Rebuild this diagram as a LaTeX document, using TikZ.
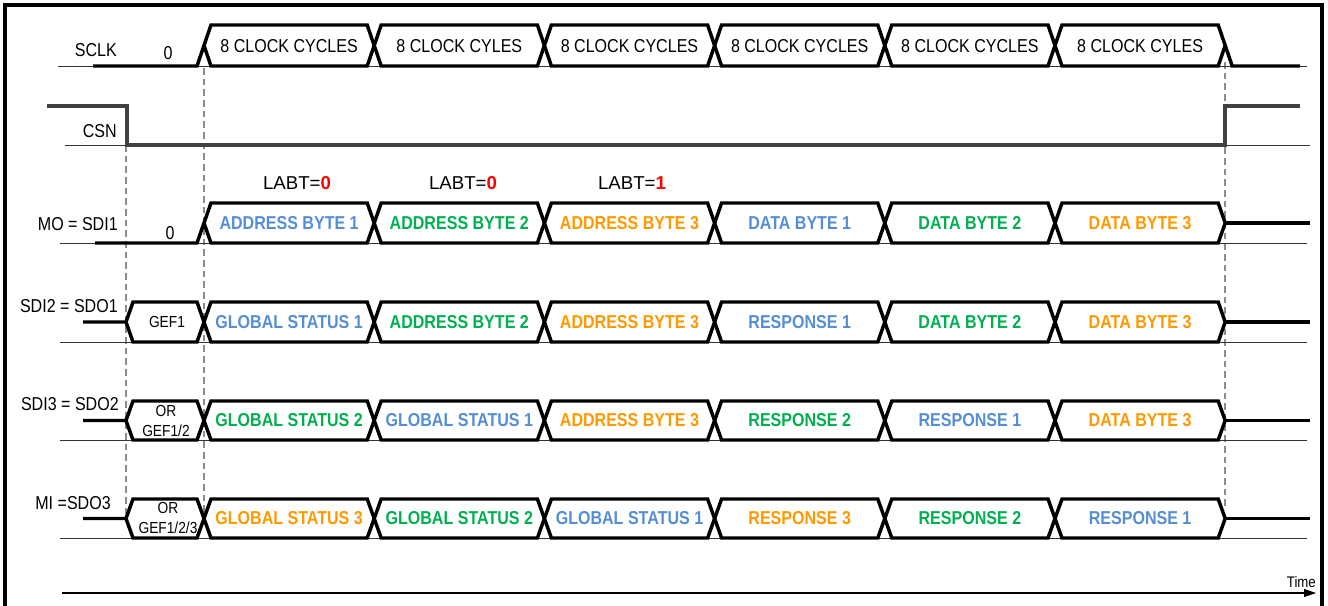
\documentclass[tikz,border=0pt]{standalone}
\usepackage{fontspec}
\setmainfont[FakeStretch=0.86]{Liberation Sans}
\newfontfamily\labtfont{Liberation Sans}
\usepackage{tikz}
\usetikzlibrary{arrows.meta}
\definecolor{byteblue}{RGB}{85,142,213}
\definecolor{bytegreen}{RGB}{0,176,80}
\definecolor{byteorange}{RGB}{255,153,0}
\definecolor{labtred}{RGB}{255,0,0}

\begin{document}
\begin{tikzpicture}[x=0.75pt, y=-0.75pt,
    every node/.style={font=\fontsize{14}{16}\selectfont, inner sep=0pt},
    sig/.style={line width=2.6pt},
    csnline/.style={line width=2.4pt, draw=black!75},
    refline/.style={line width=0.6pt, draw=black!80},
    guide/.style={dash pattern=on 5pt off 3pt, line width=1pt, draw=black!45},
    bytelabel/.style={font=\fontsize{14}{16}\selectfont\bfseries},
    siglabel/.style={anchor=east},
    labtlabel/.style={font=\fontsize{14}{16}\labtfont},
    gef/.style={font=\fontsize{12}{14.4}\selectfont, align=center}]
    \def\h{7}
    \def\pitch{170.2}
    \useasboundingbox (0,0) rectangle (1328,606);

    % frame
    \draw[line width=2.6pt] (5,606) -- (5,5) -- (1322,5) -- (1322,606);

    % guides
    \draw[guide] (126,145) -- (126,515);
    \draw[guide] (204,68) -- (204,515);
    \draw[guide] (1225,62) -- (1225,510);

    % reference lines
    \draw[refline] (58,66) -- (1307,66);
    \draw[refline] (65,145) -- (1310,145);
    \draw[refline] (60,243) -- (1307,243);
    \draw[refline] (60,342) -- (1307,342);
    \draw[refline] (60,440) -- (1307,440);
    \draw[refline] (60,538) -- (1307,538);

    % bus boxes
    \foreach \t/\b in {25/66, 203/243, 302/342, 401/440, 499/538} {
      \pgfmathsetmacro\m{(\t+\b)/2}
      \foreach \i in {0,...,5} {
        \pgfmathsetmacro\xa{204+\pitch*\i}
        \pgfmathsetmacro\xb{\xa+\pitch}
        \draw[sig] (\xa,\m) -- (\xa+\h,\t) -- (\xb-\h,\t) -- (\xb,\m)
          -- (\xb-\h,\b) -- (\xa+\h,\b) -- cycle;
      }
    }

    % SCLK
    \draw[sig] (93,66) -- (204-\h,66) -- (204,45.5);
    \draw[sig] (1225.2,45.5) -- (1225.2+\h,66) -- (1300,66);
    \node[siglabel] (sclk) at (117,50) {SCLK};
    \node (sclkzero) at (168,53) {0};
    \node (clk1) at (289.1,46) {8 CLOCK CYCLES};
    \node (clk2) at (459.3,46) {8 CLOCK CYLES};
    \node (clk3) at (629.5,46) {8 CLOCK CYCLES};
    \node (clk4) at (799.7,46) {8 CLOCK CYCLES};
    \node (clk5) at (969.9,46) {8 CLOCK CYCLES};
    \node (clk6) at (1140.1,46) {8 CLOCK CYLES};

    % CSN
    \draw[csnline] (47,106) -- (127,106) -- (127,145) -- (1225,145) -- (1225,106) -- (1300,106);
    \node[siglabel] (csn) at (117,131) {CSN};

    % MO = SDI1
    \draw[sig] (95,243) -- (204-\h,243) -- (204,223);
    \draw[sig] (1225.2,223) -- (1310,223);
    \node[siglabel] (mo) at (118,224) {MO = SDI1};
    \node (mozero) at (170,233) {0};
    \node[labtlabel] (labt1) at (297,183) {LABT=\textbf{\textcolor{labtred}{0}}};
    \node[labtlabel] (labt2) at (463,183) {LABT=\textbf{\textcolor{labtred}{0}}};
    \node[labtlabel] (labt3) at (632,183) {LABT=\textbf{\textcolor{labtred}{1}}};
    \node[bytelabel, text=byteblue] (mo1) at (289.1,223) {ADDRESS BYTE 1};
    \node[bytelabel, text=bytegreen] (mo2) at (459.3,223) {ADDRESS BYTE 2};
    \node[bytelabel, text=byteorange] (mo3) at (629.5,223) {ADDRESS BYTE 3};
    \node[bytelabel, text=byteblue] (mo4) at (799.7,223) {DATA BYTE 1};
    \node[bytelabel, text=bytegreen] (mo5) at (969.9,223) {DATA BYTE 2};
    \node[bytelabel, text=byteorange] (mo6) at (1140.1,223) {DATA BYTE 3};

    % SDI2 = SDO1
    \draw[sig] (83,322) -- (126,322) -- (126+\h,302) -- (204-\h,302) -- (204,322)
      -- (204-\h,342) -- (126+\h,342) -- (126,322);
    \draw[sig] (1225.2,322) -- (1310,322);
    \node[siglabel] (sdo1) at (118,306) {SDI2 = SDO1};
    \node[gef] (gef1) at (167,322) {GEF1};
    \node[bytelabel, text=byteblue] (sdoa1) at (289.1,322) {GLOBAL STATUS 1};
    \node[bytelabel, text=bytegreen] (sdoa2) at (459.3,322) {ADDRESS BYTE 2};
    \node[bytelabel, text=byteorange] (sdoa3) at (629.5,322) {ADDRESS BYTE 3};
    \node[bytelabel, text=byteblue] (sdoa4) at (799.7,322) {RESPONSE 1};
    \node[bytelabel, text=bytegreen] (sdoa5) at (969.9,322) {DATA BYTE 2};
    \node[bytelabel, text=byteorange] (sdoa6) at (1140.1,322) {DATA BYTE 3};

    % SDI3 = SDO2
    \draw[sig] (83,420.5) -- (126,420.5) -- (126+\h,401) -- (204-\h,401) -- (204,420.5)
      -- (204-\h,440) -- (126+\h,440) -- (126,420.5);
    \draw[sig] (1225.2,420.5) -- (1310,420.5);
    \node[siglabel] (sdo2) at (119,404) {SDI3 = SDO2};
    \node[gef] (gef2) at (166,421) {OR\\GEF1/2};
    \node[bytelabel, text=bytegreen] (sdob1) at (289.1,420.5) {GLOBAL STATUS 2};
    \node[bytelabel, text=byteblue] (sdob2) at (459.3,420.5) {GLOBAL STATUS 1};
    \node[bytelabel, text=byteorange] (sdob3) at (629.5,420.5) {ADDRESS BYTE 3};
    \node[bytelabel, text=bytegreen] (sdob4) at (799.7,420.5) {RESPONSE 2};
    \node[bytelabel, text=byteblue] (sdob5) at (969.9,420.5) {RESPONSE 1};
    \node[bytelabel, text=byteorange] (sdob6) at (1140.1,420.5) {DATA BYTE 3};

    % MI = SDO3
    \draw[sig] (83,518.5) -- (126,518.5) -- (126+\h,499) -- (204-\h,499) -- (204,518.5)
      -- (204-\h,538) -- (126+\h,538) -- (126,518.5);
    \draw[sig] (1225.2,518.5) -- (1310,518.5);
    \node[siglabel] (sdo3) at (111,503) {MI =SDO3};
    \node[gef] (gef3) at (168,518) {OR\\GEF1/2/3};
    \node[bytelabel, text=byteorange] (mi1) at (289.1,518.5) {GLOBAL STATUS 3};
    \node[bytelabel, text=bytegreen] (mi2) at (459.3,518.5) {GLOBAL STATUS 2};
    \node[bytelabel, text=byteblue] (mi3) at (629.5,518.5) {GLOBAL STATUS 1};
    \node[bytelabel, text=byteorange] (mi4) at (799.7,518.5) {RESPONSE 3};
    \node[bytelabel, text=bytegreen] (mi5) at (969.9,518.5) {RESPONSE 2};
    \node[bytelabel, text=byteblue] (mi6) at (1140.1,518.5) {RESPONSE 1};

    % time axis
    \coordinate (t0) at (62,593);
    \coordinate (t1) at (1316,593);
    \draw[line width=0.8pt, -{Triangle[length=9pt, width=6pt]}] (t0) -- (t1);
    \node[anchor=south east, font=\fontsize{11.5}{13}\selectfont] (time) at ([yshift=4pt]t1) {Time};
  \end{tikzpicture}
\end{document}
